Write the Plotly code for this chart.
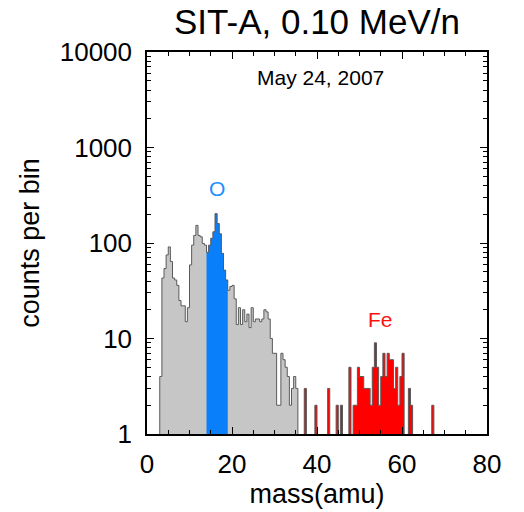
import plotly.graph_objects as go

# ---- data (histogram, 0.5 amu bins) ----
BIN_WIDTH = 0.5
LOW_START = 3.0  # left edge of first low-mass bin
low_counts = [4, 43, 54, 75, 91, 64, 43, 41, 36, 25, 22, 22, 15, 21, 59, 95, 120, 153, 120, 116,
              99, 95, 80, 95, 112, 131, 203, 160, 125, 78, 52, 41, 32, 35, 36, 26, 14, 21, 14, 20,
              15, 18, 13, 21, 15, 16, 16, 15, 16, 20, 19, 16, 10, 7, 7, 2, 2, 7, 6, 5,
              4, 2, 3, 4, 3]
O_RANGE = (14.0, 19.0)
FE_START = 37.0
fe_counts = [3, 0, 0, 0, 0, 2, 0, 0, 0, 0, 0, 3, 0, 0, 0, 2, 0, 2, 0, 0,
             0, 5, 0, 2, 2, 5, 4, 4, 3, 3, 3, 2, 5, 9, 5, 2, 4, 7, 4, 7,
             6, 6, 3, 5, 2, 4, 7, 0, 0, 3, 2, 0, 0, 0, 0, 0, 0, 0, 0, 0, 2]

x_ticks = [0, 20, 40, 60, 80]
y_ticks = [1, 10, 100, 1000, 10000]
y_ticklabels = ["1", "10", "100", "1000", "10000"]

FLOOR = 1e-2
FONT = "Liberation Sans, Arial, Helvetica, sans-serif"


def step_polygon(start, counts):
    xs, ys = [start], [FLOOR]
    for i, c in enumerate(counts):
        left = start + i * BIN_WIDTH
        v = c if c > 0 else FLOOR
        xs += [left, left + BIN_WIDTH]
        ys += [v, v]
    xs.append(start + len(counts) * BIN_WIDTH)
    ys.append(FLOOR)
    return xs, ys


fig = go.Figure()

# gray low-mass histogram
gx, gy = step_polygon(LOW_START, low_counts)
fig.add_trace(go.Scatter(x=gx, y=gy, fill="toself", fillcolor="#c6c6c6",
                         mode="lines", line=dict(width=0), hoverinfo="skip"))

# oxygen (blue) part
o_idx = [i for i in range(len(low_counts))
         if O_RANGE[0] <= LOW_START + i * BIN_WIDTH < O_RANGE[1]]
o_start = LOW_START + o_idx[0] * BIN_WIDTH
ox, oy = step_polygon(o_start, [low_counts[i] for i in o_idx])
fig.add_trace(go.Scatter(x=ox, y=oy, fill="toself", fillcolor="#0a7ffa",
                         mode="lines", line=dict(width=0), hoverinfo="skip"))

# iron (red) part
fx, fy = step_polygon(FE_START, fe_counts)
fig.add_trace(go.Scatter(x=fx, y=fy, fill="toself", fillcolor="#ff0000",
                         mode="lines", line=dict(width=0), hoverinfo="skip"))

# outline
gap_bins = int(round((FE_START - (LOW_START + len(low_counts) * BIN_WIDTH)) / BIN_WIDTH))
all_counts = low_counts + [0] * gap_bins + fe_counts
lx, ly = step_polygon(LOW_START, all_counts)
fig.add_trace(go.Scatter(x=lx, y=ly, mode="lines",
                         line=dict(color="#5a5a5a", width=1.0), hoverinfo="skip"))

minor_y = [m * 10 ** d for d in range(0, 4) for m in range(2, 10)]

fig.update_layout(
    width=524, height=512,
    margin=dict(l=147, r=37, t=52, b=75),
    paper_bgcolor="white", plot_bgcolor="white",
    showlegend=False,
    font=dict(family=FONT, color="black", size=26),
    xaxis=dict(range=[0, 80], tickvals=x_ticks, ticks="inside", ticklen=7,
               tickwidth=1.3, tickcolor="black", showline=True, linecolor="black",
               linewidth=1.5, mirror="allticks", showgrid=False, zeroline=False,
               tickfont=dict(size=26), ticklabelstandoff=6,
               minor=dict(dtick=5, ticks="inside", ticklen=4, tickcolor="black",
                          tickwidth=1, showgrid=False),
               title=dict(text="mass(amu)", font=dict(size=27), standoff=2)),
    yaxis=dict(type="log", range=[0, 4], tickvals=y_ticks, ticktext=y_ticklabels,
               ticks="inside", ticklen=7, tickwidth=1.3, tickcolor="black",
               showline=True, linecolor="black", linewidth=1.5, mirror="allticks",
               showgrid=False, zeroline=False, tickfont=dict(size=26),
               ticklabelstandoff=8,
               minor=dict(tickvals=minor_y, ticks="inside", ticklen=4,
                          tickcolor="black", tickwidth=1, showgrid=False),
               title=dict(text="counts per bin", font=dict(size=27), standoff=12)),
)

fig.add_annotation(text="SIT-A, 0.10 MeV/n", xref="paper", yref="paper",
                   x=0.5, y=1, yanchor="middle", yshift=31, showarrow=False,
                   font=dict(size=35, family=FONT))
fig.add_annotation(text="May 24, 2007", xref="paper", yref="paper",
                   x=0.51, y=0.932, yanchor="middle", showarrow=False,
                   font=dict(size=21, family=FONT))
fig.add_annotation(text="O", x=16.5, y=2.566, yref="y", xref="x", yanchor="middle",
                   showarrow=False, font=dict(size=21, family=FONT, color="#1e8fff"))
fig.add_annotation(text="Fe", x=54.9, y=1.195, yref="y", xref="x", yanchor="middle",
                   showarrow=False, font=dict(size=21, family=FONT, color="#ff1010"))

fig.write_html("out.html")
